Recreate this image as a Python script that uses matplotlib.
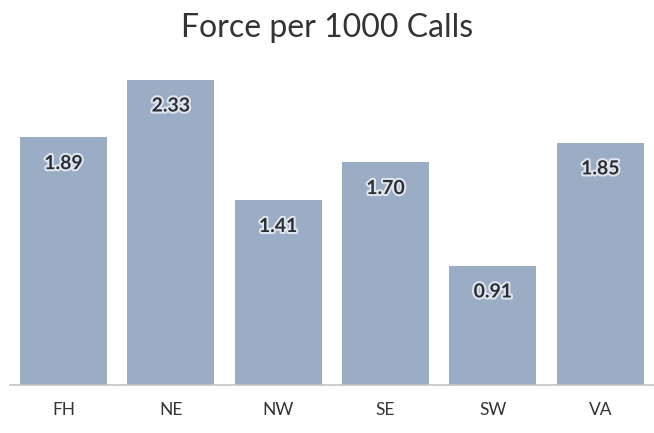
import matplotlib.pyplot as plt
import matplotlib.patheffects as pe

# Chart data
regions = ["FH", "NE", "NW", "SE", "SW", "VA"]
force_rate = [1.89, 2.33, 1.41, 1.70, 0.91, 1.85]

plt.rcParams['font.family'] = ['Lato', 'DejaVu Sans']

fig = plt.figure(figsize=(6.54, 4.33), dpi=100)
ax = fig.add_axes([0.015, 0.111, 0.985, 0.756])

bars = ax.bar(regions, force_rate, width=0.81, color='#9bacc5')
ax.set_xlim(-0.5, 5.5)
ax.set_ylim(0, 2.5)

# value labels inside the top of each bar
for rect, v in zip(bars, force_rate):
    ax.text(rect.get_x() + rect.get_width() / 2, v - 0.2, f"{v:.2f}",
            ha='center', va='center', fontsize=14, fontweight='bold', color='#2b2f33',
            path_effects=[pe.withStroke(linewidth=3, foreground='#dfe5ee')])

for s in ['top', 'right', 'left']:
    ax.spines[s].set_visible(False)
ax.spines['bottom'].set_color('#c4c4c4')
ax.spines['bottom'].set_linewidth(1.2)
ax.set_yticks([])
ax.tick_params(axis='x', length=0, pad=12, labelsize=12.5, labelcolor='#333333')

fig.suptitle("Force per 1000 Calls", fontsize=23, color='#333333', y=0.97)

fig.savefig("out.png", dpi=100)
